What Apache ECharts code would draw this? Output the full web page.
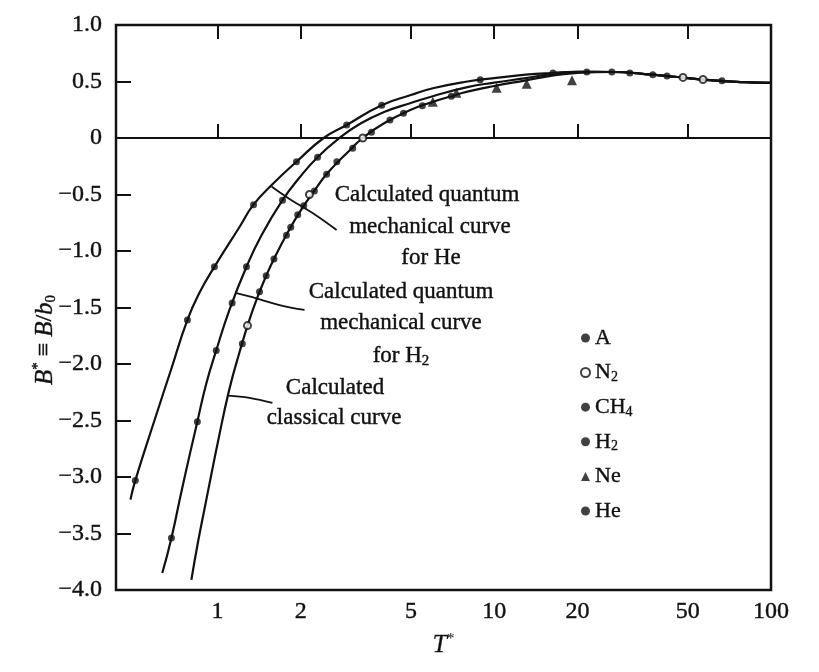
<!DOCTYPE html>
<html><head><meta charset="utf-8">
<script src="https://cdn.jsdelivr.net/npm/echarts@6/dist/echarts.min.js"></script>
<style>html,body{margin:0;padding:0;background:#fff}#c{width:819px;height:672px}</style>
</head><body><div id="c"></div>
<script>
// ---- data (T*, B*) ----
const curveHeT = [0.485,0.505,0.592,0.682,0.779,0.861,0.975,1.20,1.35,1.58,1.93,2.42,2.93,3.92,5,6,8,10,13,16,20,27,35,45,60,80,100];
const curveHeB = [-3.20,-3.03,-2.50,-2.04,-1.61,-1.37,-1.14,-0.79,-0.59,-0.41,-0.21,0,0.115,0.29,0.38,0.44,0.50,0.53,0.56,0.575,0.585,0.584,0.566,0.542,0.512,0.494,0.487];
const curveH2T = [0.632,0.682,0.747,0.846,0.912,0.99,1.105,1.273,1.443,1.718,1.98,2.30,2.76,3.3,4,5,6,8,10,13,16,20,27,35,45,60,80,100];
const curveH2B = [-3.85,-3.54,-3.09,-2.51,-2.17,-1.88,-1.52,-1.14,-0.86,-0.55,-0.35,-0.17,0,0.13,0.23,0.31,0.37,0.45,0.49,0.53,0.565,0.585,0.584,0.566,0.542,0.512,0.494,0.487];
const curveClT = [0.805,0.85,0.9,0.95,1.0,1.1,1.2,1.3,1.4,1.5,1.6,1.8,2.0,2.25,2.5,3.0,3.35,4,5,6,7,8,10,13,16,20,27,35,45,60,80,100];
const curveClB = [-3.91,-3.58,-3.27,-2.98,-2.71,-2.24,-1.90,-1.62,-1.40,-1.22,-1.07,-0.83,-0.64,-0.46,-0.31,-0.11,0,0.13,0.25,0.32,0.37,0.41,0.46,0.51,0.55,0.575,0.584,0.566,0.542,0.512,0.494,0.487];

const ptsAT = [1.23,1.419,1.50,1.776,1.95,2.24,2.48,3.08,4.2,5.5,21.6,30.9,42.1];
const ptsAB = [-1.82,-1.36,-1.22,-0.86,-0.68,-0.47,-0.32,-0.09,0.16,0.285,0.585,0.575,0.549];
const ptsN2T = [1.284,2.15,3.35,48.1,56.8];
const ptsN2B = [-1.66,-0.50,0,0.536,0.518];
const ptsCH4T = [1.60,1.84,2.05,2.70,3.6,4.7,7.0];
const ptsCH4B = [-1.07,-0.79,-0.60,-0.21,0.05,0.22,0.37];
const ptsH2T = [0.682,0.846,0.99,1.13,1.273,1.718,2.30];
const ptsH2B = [-3.54,-2.51,-1.88,-1.46,-1.14,-0.55,-0.17];
const ptsNeT = [6.0,7.3,10.2,13.1,19.1];
const ptsNeB = [0.32,0.40,0.445,0.48,0.51];
const ptsHeT = [0.505,0.779,0.975,1.35,1.93,2.93,3.92,8.9,16.3,26.6,37.4,66.5];
const ptsHeB = [-3.03,-1.61,-1.14,-0.59,-0.21,0.115,0.29,0.515,0.576,0.584,0.56,0.506];

// leader lines of the annotations (data coordinates)
const leadHeT = [1.568,1.821,2.206,2.694];
const leadHeB = [-0.43,-0.540,-0.664,-0.814];
const leadH2T = [1.171,1.327,1.676,2.064];
const leadH2B = [-1.372,-1.407,-1.478,-1.522];
const leadClT = [1.09,1.305,1.58];
const leadClB = [-2.28,-2.30,-2.345];

const xTicks = [1,2,5,10,20,50];
const xLabels = [1,2,5,10,20,50,100];

const zip = (a,b) => a.map((v,i)=>[v,b[i]]);
const FONT = 'Liberation Serif';
const INK = '#111';

const lineSeries = (t,b,w,sm) => ({
  type:'line', data: zip(t,b), showSymbol:false, smooth:sm, silent:true,
  lineStyle:{color:INK, width:w}, z:3
});
const scatter = (name,t,b,symbol,size) => ({
  name, type:'scatter', data: zip(t,b), symbol, symbolSize:size, silent:true,
  itemStyle: symbol==='emptyCircle' ? {color:INK, borderWidth:2} : {color:INK},
  z:5
});

const chart = echarts.init(document.getElementById('c'));
const subFmt = s => s.replace(/(\d)/g,'{s|$1}');

const curve3 = lineSeries(curveClT,curveClB,2.2,0.5);
curve3.markLine = {silent:true, symbol:['none','none'], label:{show:false},
  lineStyle:{color:INK, width:2, type:'solid'}, data:[{yAxis:0}]};

const boldish = {textBorderColor:INK, textBorderWidth:0.4};
const gBold = {stroke:INK, lineWidth:0.4};

const option = {
  animation:false,
  backgroundColor:'#fff',
  grid:{left:116, right:48, top:25, bottom:82, show:true, borderColor:INK, borderWidth:2.5, backgroundColor:'transparent'},
  xAxis:[{
    type:'log', logBase:10, min:0.43, max:100,
    name:'{i|T}{sup|*}', nameLocation:'middle', nameGap:42,
    nameTextStyle:{fontFamily:FONT, fontSize:24, color:INK, rich:{
      i:{fontStyle:'italic', fontSize:26, fontFamily:FONT, color:INK, lineHeight:26, textBorderColor:INK, textBorderWidth:0.3},
      sup:{fontSize:15, lineHeight:15, verticalAlign:'top', fontFamily:FONT, color:INK}}},
    axisLine:{show:false}, splitLine:{show:false}, minorTick:{show:false},
    axisTick:{inside:true, length:14, lineStyle:{color:INK, width:2}, customValues:xTicks},
    axisLabel:Object.assign({customValues:xLabels, fontFamily:FONT, fontSize:24, color:INK, margin:10,
      formatter: v => String(Math.round(v*1000)/1000)}, boldish)
  },{
    type:'log', logBase:10, min:0.43, max:100, position:'top',
    axisLine:{show:false}, splitLine:{show:false}, minorTick:{show:false},
    axisTick:{inside:true, length:14, lineStyle:{color:INK, width:2}, customValues:xTicks},
    axisLabel:{show:false}
  }],
  yAxis:{
    type:'value', min:-4, max:1, interval:0.5,
    axisLine:{show:false}, splitLine:{show:false},
    axisTick:{inside:true, length:15, lineStyle:{color:INK, width:2}},
    axisLabel:Object.assign({fontFamily:FONT, fontSize:24, color:INK, margin:14,
      formatter: v => v===0 ? '0' : v.toFixed(1).replace('-','\u2212')}, boldish)
  },
  legend:{
    orient:'vertical', left:575, top:321, itemWidth:9, itemHeight:9, itemGap:10.5,
    selectedMode:false,
    formatter: subFmt,
    textStyle:Object.assign({fontFamily:FONT, fontSize:22, color:INK, lineHeight:24, rich:{
      s:{fontSize:14, lineHeight:24, verticalAlign:'bottom', fontFamily:FONT, color:INK, padding:[8,0,0,0], textBorderColor:INK, textBorderWidth:0.3}}}, boldish),
    data:[
      {name:'A', icon:'circle'},
      {name:'N2', icon:'emptyCircle'},
      {name:'CH4', icon:'circle'},
      {name:'H2', icon:'circle'},
      {name:'Ne', icon:'triangle'},
      {name:'He', icon:'circle'}
    ]
  },
  series:[
    lineSeries(curveHeT,curveHeB,2.2,0.5),
    lineSeries(curveH2T,curveH2B,2.2,0.5),
    curve3,
    lineSeries(leadHeT,leadHeB,1.8,0.4),
    lineSeries(leadH2T,leadH2B,1.8,0.4),
    lineSeries(leadClT,leadClB,1.8,0.4),
    scatter('A',ptsAT,ptsAB,'circle',7),
    scatter('N2',ptsN2T,ptsN2B,'emptyCircle',7),
    scatter('CH4',ptsCH4T,ptsCH4B,'circle',7),
    scatter('H2',ptsH2T,ptsH2B,'circle',7),
    scatter('Ne',ptsNeT,ptsNeB,'triangle',10),
    scatter('He',ptsHeT,ptsHeB,'circle',7)
  ]
};

const annotations = [
  ['Calculated quantum',427,195],['mechanical curve',430,227],['for He',431,258],
  ['Calculated quantum',401,292],['mechanical curve',401,323],['for H{s|2}',401,356],
  ['Calculated',335,388],['classical curve',334,418]
];
const g = annotations.map(([t,x,y]) => ({
  type:'text', x, y, silent:true, z:10,
  style:Object.assign({text:t, fontFamily:FONT, fontSize:23, fill:INK, align:'center', verticalAlign:'middle',
    lineHeight:26, rich:{s:Object.assign({fontSize:15, lineHeight:15, verticalAlign:'bottom', fontFamily:FONT, fill:INK}, gBold)}}, gBold)
}));
// y-axis title
g.push({
  type:'text', x:45, y:340, rotation:Math.PI/2, silent:true, z:10,
  style:Object.assign({text:'{i|B}{sup|*} \u2261 {i|B}/{i|b}{s|0}', fontFamily:FONT, fontSize:24, fill:INK,
    align:'center', verticalAlign:'middle', lineHeight:28,
    rich:{
      i:Object.assign({fontStyle:'italic', fontSize:25, fontFamily:FONT, fill:INK, lineHeight:28}, gBold),
      sup:{fontSize:15, lineHeight:15, verticalAlign:'top', fontFamily:FONT, fill:INK},
      s:{fontSize:15, lineHeight:15, verticalAlign:'bottom', fontFamily:FONT, fill:INK}}}, gBold)
});
option.graphic = g;

chart.setOption(option);
</script>
</body></html>
